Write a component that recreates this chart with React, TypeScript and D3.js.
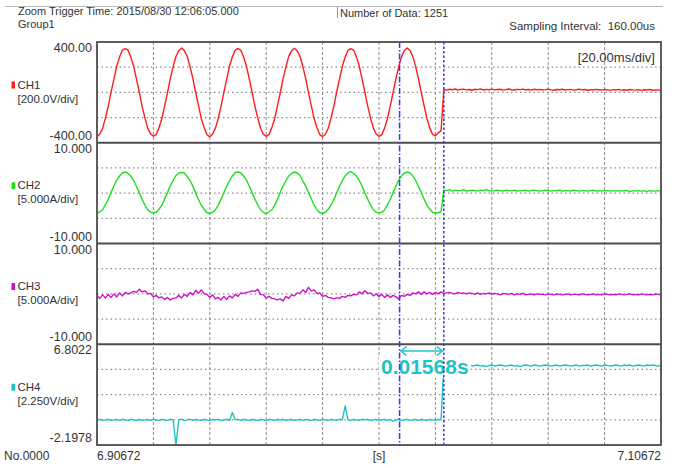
import React from 'react';
import * as d3 from 'd3';

// ---------- data ----------
const T_START = 6.90672;
const T_END = 7.10672;
const SAMPLE_S = 0.001; // values read every 1 ms from the trace

const HEADER_TRIGGER = 'Zoom Trigger Time: 2015/08/30 12:06:05.000';
const HEADER_GROUP = 'Group1';
const HEADER_COUNT = 'Number of Data: 1251';
const HEADER_INTERVAL = 'Sampling Interval:  160.00us';
const TIME_DIV = '[20.00ms/div]';
const X_LABELS = ['6.90672', '[s]', '7.10672'];
const ROW_LABEL = 'No.0000';

const CH_NAMES = ['CH1', 'CH2', 'CH3', 'CH4'];
const CH_UNITS = ['[200.0V/div]', '[5.000A/div]', '[5.000A/div]', '[2.250V/div]'];
const CH_MAX = [400, 10, 10, 6.8022];
const CH_MIN = [-400, -10, -10, -2.1978];
const CH_MAX_LABEL = ['400.00', '10.000', '10.000', '6.8022'];
const CH_MIN_LABEL = ['-400.00', '-10.000', '-10.000', '-2.1978'];

const CURSOR_TIMES = [7.01402, 7.0297];
const CURSOR_LABEL = '0.01568s';

const CH1_VALUES = [
  -352, -330, -286, -203, -110, 4, 106, 209, 280, 336, 347, 335, 280, 208, 105, 3, -111, -204, -286, -330,
  -348, -335, -281, -208, -105, -2, 111, 204, 285, 331, 352, 330, 286, 203, 110, -3, -106, -209, -280, -336,
  -353, -331, -284, -205, -109, 2, 105, 208, 282, 335, 349, 334, 281, 207, 107, 1, -110, -203, -285, -332,
  -349, -334, -280, -209, -106, -1, 109, 203, 286, 330, 351, 331, 285, 205, 109, -2, -107, -208, -281, -335,
  -351, -332, -285, -204, -108, 3, 107, 207, 281, 334, 348, 336, 282, 209, 106, 2, -109, -205, -284, -331,
  -350, -336, -282, -207, -107, -1, 110, 205, 284, 332, 353, 332, 284, 204, 108, -1, -108, -207, -282, -334,
  -345, -322, -306,
  23, 18, 25, 21, 27, 19, 24, 26, 20, 23,
  17, 25, 22, 28, 19, 24, 21, 26, 20, 23,
  25, 18, 22, 27, 21, 19, 24, 22, 26, 20,
  23, 18, 25, 21, 24, 19, 22, 26, 20, 17,
  23, 21, 25, 19, 22, 24, 18, 21, 26, 20,
  23, 17, 22, 19, 24, 21, 18, 23, 20, 16,
  22, 19, 24, 18, 21, 17, 23, 20, 18, 22,
  16, 21, 19, 23, 17, 20, 18, 21,
];

const CH2_VALUES = [
  -4.0, -3.7, -3.3, -2.3, -1.2, 0.2, 1.4, 2.6, 3.4, 4.0, 4.2, 3.9, 3.4, 2.5, 1.3, 0.1, -1.2, -2.4, -3.3, -3.8,
  -3.9, -3.8, -3.2, -2.4, -1.1, 0.1, 1.5, 2.5, 3.5, 4.0, 4.1, 4.0, 3.3, 2.5, 1.4, 0.0, -1.3, -2.4, -3.2, -3.9,
  -4.0, -3.8, -3.3, -2.4, -1.2, 0.1, 1.4, 2.5, 3.4, 4.1, 4.2, 4.0, 3.4, 2.6, 1.4, 0.1, -1.2, -2.3, -3.3, -3.8,
  -4.1, -3.7, -3.3, -2.4, -1.2, 0.2, 1.4, 2.5, 3.4, 3.9, 4.2, 4.0, 3.5, 2.4, 1.4, 0.1, -1.1, -2.4, -3.3, -3.9,
  -4.0, -3.8, -3.2, -2.4, -1.3, 0.1, 1.3, 2.5, 3.4, 4.0, 4.3, 3.9, 3.4, 2.5, 1.4, 0.0, -1.2, -2.4, -3.3, -3.8,
  -3.9, -3.8, -3.3, -2.3, -1.2, 0.1, 1.4, 2.6, 3.4, 4.0, 4.2, 4.0, 3.4, 2.5, 1.3, 0.1, -1.2, -2.4, -3.2, -3.8,
  -4.0, -3.9, -3.7,
  0.6, 0.5, 0.7, 0.4, 0.6, 0.5, 0.5, 0.7, 0.4, 0.5,
  0.6, 0.5, 0.4, 0.6, 0.5, 0.7, 0.5, 0.4, 0.5, 0.6,
  0.5, 0.4, 0.6, 0.5, 0.5, 0.6, 0.4, 0.5, 0.5, 0.6,
  0.4, 0.5, 0.6, 0.5, 0.4, 0.5, 0.6, 0.5, 0.4, 0.5,
  0.5, 0.6, 0.4, 0.5, 0.5, 0.4, 0.6, 0.5, 0.4, 0.5,
  0.5, 0.4, 0.5, 0.6, 0.4, 0.5, 0.4, 0.5, 0.5, 0.4,
  0.5, 0.4, 0.5, 0.4, 0.5, 0.5, 0.3, 0.5, 0.4, 0.5,
  0.4, 0.5, 0.3, 0.5, 0.4, 0.4, 0.5, 0.4,
];

const CH3_VALUES = [
  -0.3, -0.9, -0.2, -0.8, -0.1, -0.7, 0.0, -0.6, 0.2, -0.4,
  0.3, 0.0, 0.2, 0.5, 0.3, 0.9, 0.4, 0.6, 0.0, 0.1,
  -0.6, -0.3, -0.8, -0.6, -1.1, -0.7, -1.2, -0.9, -0.8, -0.3,
  -0.8, -0.1, -0.5, 0.3, -0.2, 0.7, 0.1, 0.8, 0.0, -0.1,
  -0.7, -0.2, -1.0, -0.7, -1.2, -0.5, -1.1, -0.4, -0.8, -0.1,
  -0.5, 0.2, 0.1, 0.3, 0.4, 0.6, 0.5, 0.9, -0.1, -0.2,
  -0.8, -0.5, -0.9, -1.0, -1.2, -1.0, -1.4, -0.5, -0.9, -0.2,
  -0.4, 0.2, 0.1, 0.8, 0.3, 1.3, 0.6, 0.8, 0.1, 0.2,
  -0.5, -0.3, -0.7, -0.8, -1.0, -0.8, -0.9, -0.5, -0.7, -0.3,
  -0.4, -0.1, -0.2, 0.4, 0.0, 0.6, 0.1, 0.2, -0.4, 0.0,
  -0.5, -0.1, -0.7, -0.2, -0.7, -0.3, -0.6, -1.0, -0.3, -0.5,
  -0.1, -0.3, 0.2, 0.0, 0.4, -0.1, 0.4, 0.0, 0.3, -0.1,
  0.3, 0.0, 0.4, 0.1, 0.2, 0.3, 0.1, 0.0, 0.3, 0.1,
  0.2, 0.0, 0.2, 0.1, -0.1, 0.2, -0.1, 0.1, 0.0, 0.2,
  -0.1, 0.1, 0.0, -0.2, 0.1, 0.0, -0.1, 0.1, -0.2, 0.0,
  -0.1, 0.1, -0.2, -0.1, 0.0, -0.2, 0.0, -0.1, -0.1, -0.2,
  0.0, -0.1, -0.2, 0.0, -0.1, -0.2, -0.1, 0.0, -0.2, -0.1,
  -0.1, -0.2, 0.0, -0.1, -0.2, -0.1, 0.0, -0.2, -0.1, -0.2,
  0.0, -0.1, -0.2, -0.1, -0.2, 0.0, -0.1, -0.2, -0.1, 0.0,
  -0.2, -0.1, -0.2, 0.0, -0.1, -0.2, -0.1, -0.2, 0.0, -0.1,
  -0.2,
];

const CH4_VALUES = [
  0.0, 0.1, 0.0, 0.05, 0.1, 0.0, 0.05, 0.1, 0.0, 0.1,
  0.05, 0.0, 0.1, 0.05, 0.0, 0.1, 0.0, 0.05, 0.1, 0.0,
  0.1, 0.05, 0.0, 0.1, 0.05, 0.0, 0.1, 0.05, -2.2, 0.05,
  0.1, 0.0, 0.05, 0.1, 0.0, 0.1, 0.05, 0.0, 0.1, 0.05,
  0.0, 0.1, 0.05, 0.1, 0.0, 0.05, 0.1, 0.0, 0.7, 0.05,
  0.1, 0.0, 0.1, 0.05, 0.0, 0.1, 0.05, 0.0, 0.1, 0.05,
  0.0, 0.1, 0.05, 0.0, 0.1, 0.05, 0.1, 0.0, 0.05, 0.1,
  0.0, 0.05, 0.1, 0.0, 0.1, 0.05, 0.0, 0.1, 0.05, 0.0,
  0.1, 0.05, 0.0, 0.1, 0.05, 0.0, 0.1, 0.05, 1.3, 0.05,
  0.0, 0.1, 0.05, 0.0, 0.1, 0.05, 0.1, 0.0, 0.05, 0.1,
  0.0, 0.05, 0.1, 0.0, 0.1, -0.1, 0.05, 0.1, 0.0, 0.05,
  0.1, 0.0, 0.05, 0.1, 0.0, 0.1, 0.05, 0.0, 0.1, 0.05,
  0.0, 0.1, 0.05,
  4.9, 4.85, 4.95, 4.9, 4.8, 4.9, 4.95, 4.85, 4.9, 4.95,
  4.85, 4.9, 4.95, 4.85, 4.9, 4.8, 4.9, 4.95, 4.85, 4.9,
  4.95, 4.9, 4.85, 4.9, 4.95, 4.85, 4.9, 4.8, 4.9, 4.95,
  4.9, 4.85, 4.95, 4.9, 4.85, 4.9, 4.95, 4.9, 4.85, 4.9,
  4.95, 4.85, 4.9, 4.95, 4.9, 4.85, 4.9, 4.95, 4.85, 4.9,
  4.9, 4.95, 4.85, 4.9, 4.95, 4.9, 4.85, 4.95, 4.9, 4.85,
  4.9, 4.95, 4.9, 4.85, 4.95, 4.9, 4.95, 4.85, 4.9, 4.95,
  4.9, 4.85, 4.95, 4.9, 4.95, 4.9, 4.85, 4.95,
];

const CH_DATA = [CH1_VALUES, CH2_VALUES, CH3_VALUES, CH4_VALUES];

// ---------- styles ----------
const CH_COLORS = ['#ff1c1c', '#1ee01e', '#cc10cc', '#1ec4c4'];
const W = 680;
const H = 468;
const PLOT = { left: 97, right: 661, top: 42, bottom: 445 };
const FONT = '"Liberation Sans", Arial, sans-serif';
const TEXT = '#333333';
const FRAME = '#4d4d4d';
const GRID = '#8c8c8c';
const CURSOR = '#3535ff';
const MEASURE = '#1ec4c4';

export default function App() {
  const x = d3.scaleLinear().domain([T_START, T_END]).range([PLOT.left, PLOT.right]);
  const panelH = (PLOT.bottom - PLOT.top) / CH_NAMES.length;
  const vGrid = d3.range(1, 10).map((k) => x(T_START + k * 0.02));
  const c1 = x(CURSOR_TIMES[0]);
  const c2 = x(CURSOR_TIMES[1]);

  return (
    <svg width={W} height={H} style={{ position: 'absolute', left: 0, top: 0, background: '#fff' }} fontFamily={FONT}>
      <defs>
        {CH_NAMES.map((_, i) => (
          <clipPath id={`clip${i}`} key={i}>
            <rect x={PLOT.left} y={PLOT.top + i * panelH} width={PLOT.right - PLOT.left} height={panelH} />
          </clipPath>
        ))}
      </defs>
      <rect x={0} y={0} width={W} height={H} fill="#fff" />

      {/* header */}
      <line x1={5} x2={663} y1={6.5} y2={6.5} stroke="#b8b8b8" strokeWidth={1} />
      <line x1={337.5} x2={337.5} y1={7} y2={18} stroke="#9a9a9a" strokeWidth={1} />
      <text x={18} y={15} fontSize={11} fill={TEXT}>{HEADER_TRIGGER}</text>
      <text x={18} y={28} fontSize={11} fill={TEXT}>{HEADER_GROUP}</text>
      <text x={340} y={17} fontSize={11} fill={TEXT}>{HEADER_COUNT}</text>
      <text x={655} y={29.5} fontSize={11.5} fill={TEXT} textAnchor="end" style={{ whiteSpace: 'pre' }}>{HEADER_INTERVAL}</text>

      {/* grid */}
      {vGrid.map((gx, k) => (
        <line key={`v${k}`} x1={gx} x2={gx} y1={PLOT.top} y2={PLOT.bottom} stroke={GRID} strokeWidth={1} strokeDasharray="3,2" />
      ))}
      {CH_NAMES.map((_, i) => {
        const y = d3.scaleLinear().domain([CH_MIN[i], CH_MAX[i]]).range([PLOT.top + (i + 1) * panelH, PLOT.top + i * panelH]);
        return [1, 2, 3].map((j) => {
          const gy = y(CH_MIN[i] + (j * (CH_MAX[i] - CH_MIN[i])) / 4);
          return <line key={`h${i}${j}`} x1={PLOT.left} x2={PLOT.right} y1={gy} y2={gy} stroke={GRID} strokeWidth={1.2} strokeDasharray="1.5,3" />;
        });
      })}

      {/* traces */}
      {CH_NAMES.map((name, i) => {
        const pTop = PLOT.top + i * panelH;
        const pBot = pTop + panelH;
        const y = d3.scaleLinear().domain([CH_MIN[i], CH_MAX[i]]).range([pBot, pTop]);
        const line = d3
          .line<number>()
          .x((_, k) => x(T_START + k * SAMPLE_S))
          .y((d) => y(d));
        return (
          <g key={name}>
            <path d={line(CH_DATA[i]) || ''} fill="none" stroke={CH_COLORS[i]} strokeWidth={1.4} clipPath={`url(#clip${i})`} strokeLinejoin="round" />
            <rect x={11.5} y={pTop + 39.5} width={3.5} height={7} fill={CH_COLORS[i]} />
            <text x={17.5} y={pTop + 46.5} fontSize={11.5} fill={TEXT}>{name}</text>
            <text x={17.5} y={pTop + 60.5} fontSize={11.5} fill={TEXT}>{CH_UNITS[i]}</text>
            <text x={92} y={pTop + 10} fontSize={12.5} fill={TEXT} textAnchor="end">{CH_MAX_LABEL[i]}</text>
            <text x={92} y={pBot - 3} fontSize={12.5} fill={TEXT} textAnchor="end">{CH_MIN_LABEL[i]}</text>
          </g>
        );
      })}

      {/* panel separators and frame */}
      {[1, 2, 3].map((i) => (
        <line key={`s${i}`} x1={PLOT.left} x2={PLOT.right} y1={PLOT.top + i * panelH} y2={PLOT.top + i * panelH} stroke={FRAME} strokeWidth={1.8} />
      ))}
      <rect x={PLOT.left} y={PLOT.top} width={PLOT.right - PLOT.left} height={PLOT.bottom - PLOT.top} fill="none" stroke={FRAME} strokeWidth={1.8} />

      <text x={655} y={62} fontSize={13} fill={TEXT} textAnchor="end">{TIME_DIV}</text>

      {/* measurement */}
      <rect x={379} y={356} width={92} height={22} fill="#fff" />
      <text x={381} y={374} fontSize={21} fontWeight="bold" fill={MEASURE}>{CURSOR_LABEL}</text>
      <line x1={c1 + 1} x2={c2 - 1} y1={351} y2={351} stroke={MEASURE} strokeWidth={1.6} />
      <path d={`M${c1 + 7},${346.5} L${c1 + 1.5},${351} L${c1 + 7},${355.5}`} fill="none" stroke={MEASURE} strokeWidth={1.6} />
      <path d={`M${c2 - 7},${346.5} L${c2 - 1.5},${351} L${c2 - 7},${355.5}`} fill="none" stroke={MEASURE} strokeWidth={1.6} />

      {/* cursors */}
      <line x1={c1} x2={c1} y1={PLOT.top} y2={PLOT.bottom} stroke={CURSOR} strokeWidth={1.5} strokeDasharray="6,2,1.5,2" />
      <line x1={c2} x2={c2} y1={PLOT.top} y2={PLOT.bottom} stroke={CURSOR} strokeWidth={1.5} strokeDasharray="2.5,2" />

      {/* bottom labels */}
      <text x={4} y={460} fontSize={12} fill={TEXT}>{ROW_LABEL}</text>
      <text x={PLOT.left} y={460} fontSize={12} fill={TEXT}>{X_LABELS[0]}</text>
      <text x={(PLOT.left + PLOT.right) / 2} y={460} fontSize={12} fill={TEXT} textAnchor="middle">{X_LABELS[1]}</text>
      <text x={PLOT.right} y={460} fontSize={12} fill={TEXT} textAnchor="end">{X_LABELS[2]}</text>
    </svg>
  );
}
